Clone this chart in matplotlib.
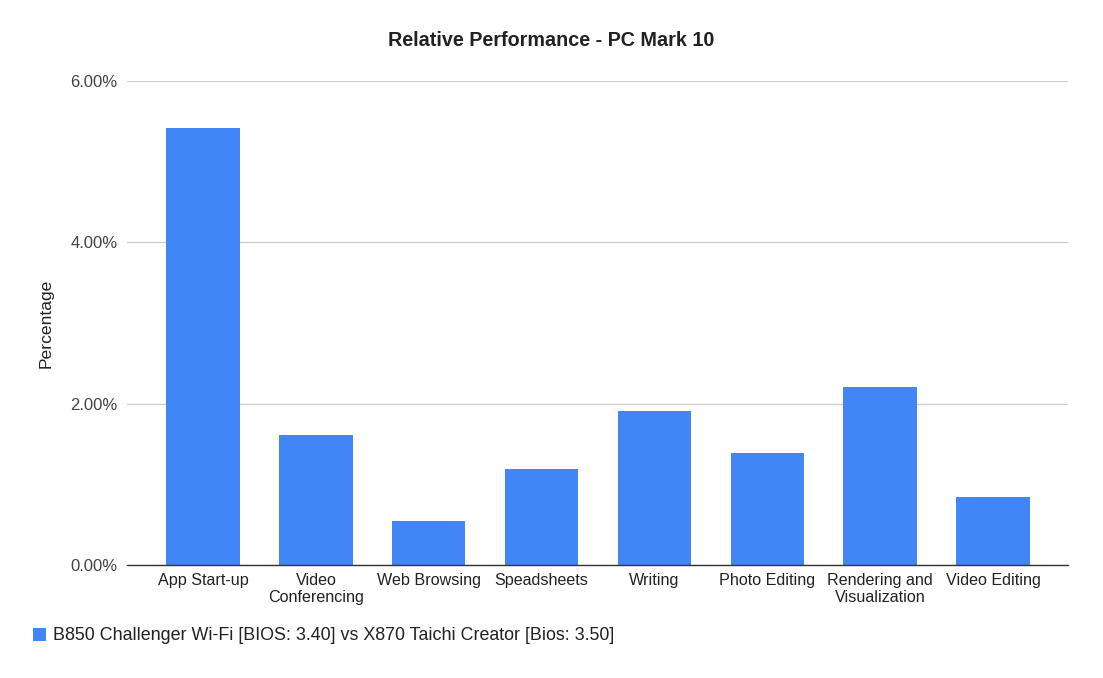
import matplotlib.pyplot as plt
from matplotlib.ticker import FuncFormatter

categories = ["App Start-up", "Video\nConferencing", "Web Browsing", "Speadsheets",
              "Writing", "Photo Editing", "Rendering and\nVisualization", "Video Editing"]
values = [5.42, 1.61, 0.545, 1.19, 1.91, 1.39, 2.21, 0.84]
series_name = "B850 Challenger Wi-Fi [BIOS: 3.40] vs X870 Taichi Creator [Bios: 3.50]"

plt.rcParams['font.family'] = ['Liberation Sans', 'DejaVu Sans']

fig = plt.figure(figsize=(11.03, 6.78), dpi=100)
ax = fig.add_axes([127 / 1103, 1 - 565 / 678, (1068 - 127) / 1103, (565 - 81) / 678])

x = range(len(categories))
ax.bar(x, values, width=0.65, color="#4285f4", zorder=3, label=series_name)

ax.set_xlim(-0.674, len(categories) - 0.335)
ax.set_ylim(0, 6)
ax.set_yticks([0, 2, 4, 6])
ax.yaxis.set_major_formatter(FuncFormatter(lambda v, _: f"{v:.2f}%"))
ax.grid(axis="y", color="#cccccc", linewidth=0.9, zorder=0)
ax.set_xticks(list(x))
ax.set_xticklabels(categories, fontsize=11.6, color="#222222", linespacing=1.12)
ax.tick_params(axis="y", labelsize=12, labelcolor="#444444", length=0, pad=7)
ax.tick_params(axis="x", length=0, pad=6)
for s in ["top", "right", "left"]:
    ax.spines[s].set_visible(False)
ax.spines["bottom"].set_color("#333333")
ax.spines["bottom"].set_linewidth(1.0)
ax.spines["bottom"].set_zorder(4)

ax.set_ylabel("Percentage", fontsize=12.6, color="#222222", labelpad=12)
fig.text(551 / 1103, 1 - 41 / 678, "Relative Performance - PC Mark 10",
         ha="center", va="center", fontsize=14.2, fontweight="bold", color="#222222")

fig.legend(loc="center left", bbox_to_anchor=(17 / 1103, 1 - 636 / 678), frameon=False,
           fontsize=12.9, handlelength=0.7, handleheight=0.7, handletextpad=0.4,
           labelcolor="#222222")

fig.savefig("out.png", dpi=100)
